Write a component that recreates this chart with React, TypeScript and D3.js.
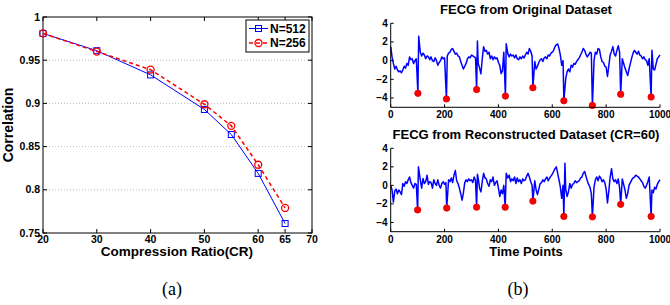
import { useMemo } from "react";
import * as d3 from "d3";

// (a) correlation vs compression ratio
const compressionRatios = [20, 30, 40, 50, 55, 60, 65];
const corrN512 = [0.981, 0.961, 0.933, 0.893, 0.864, 0.819, 0.761];
const corrN256 = [0.981, 0.960, 0.939, 0.899, 0.874, 0.829, 0.779];
const crTicks = [20, 30, 40, 50, 60, 65, 70];
const corrTicks = [0.75, 0.8, 0.85, 0.9, 0.95, 1];
const corrTickLabels = ["0.75", "0.8", "0.85", "0.9", "0.95", "1"];

// (b) FECG traces, one value every 5 time points
const timeStep = 5;
const originalBase = [
  1.5, 0.4, -0.3, -0.9, -0.6, -1.0, -1.2, -1.1, -1.3, -1.0,
  -0.6, -0.8, -0.3, -0.5, 0.4, 0.1, 0.2, -0.3, 0.0, 0.2,
  0.0, 0.3, 0.9, 0.5, 0.8, 0.6, 0.2, 0.5, 0.4, 0.1,
  0.4, 0.0, -0.1, 0.3, 0.0, -0.5, -0.2, 0.0, 0.4, 0.2,
  0.3, 0.1, 0.5, 0.8, 0.9, 1.2, 1.3, 1.0, 0.7, 0.8,
  0.5, 0.4, -0.1, -0.5, -0.9, -0.6, -0.3, 0.2, 0.4, 0.3,
  0.6, 0.5, 0.4, 0.3, 0.2, -0.3, -0.8, -1.4, 0.2, 1.5,
  1.0, 1.1, 0.7, 0.9, 0.2, 0.5, 0.1, 0.4, 0.2, 0.3,
  -0.2, -0.5, -1.4, -1.1, 0.9, 0.5, 0.2, 0.75, 0.4, 0.7,
  0.5, 0.6, 0.3, 0.6, 0.2, 0.1, 0.4, 0.2, 0.5, 0.3,
  0.6, 0.9, 0.7, 1.3, 1.0, 0.5, 0.0, -0.1, -0.9, -0.6,
  -0.2, 0.1, 0.2, -0.1, 0.3, 0.4, 0.2, 0.6, 0.5, 0.8,
  0.9, 1.1, 1.5, 1.7, 1.8, 1.3, 0.6, -0.5, 0.0, -1.5,
  -1.9, -1.2, -0.9, -1.2, -0.5, -0.7, -0.3, -0.4, -0.1, 0.1,
  0.3, 0.6, 0.9, 1.3, 1.1, 0.7, 0.4, 0.6, 0.9, 0.8,
  0.0, 0.0, 0.9, 0.7, 1.3, 1.2, 0.4, -0.1, -0.2, -0.6,
  -0.7, -1.7, -0.5, 0.6, 1.0, 1.5, 0.7, 0.5, 1.1, 1.6,
  0.9, 0.0, 0.2, -0.3, -0.8, -1.2, -1.6, -0.9, -0.3, 0.3,
  0.8, 1.1, 0.9, 0.7, 1.0, 0.6, 0.5, 0.2, 0.4, 0.1,
  0.0, -0.5, 0.2, 0.0, -0.3, -0.9, -1.0, -0.4, 0.2, 0.4,
  0.6,
];
const originalPeakTimes = [101, 207, 319, 426, 528, 643, 749, 854, 967];
const originalPeakValues = [-3.5, -4.1, -3.1, -3.8, -2.9, -4.3, -4.8, -3.6, -3.9];
const originalRTimes = [104, 322, 429, 970];
const originalRValues = [2.6, 2.1, 1.8, 1.1];

const reconBase = [
  0.0, -0.5, -1.8, -0.6, -0.4, -0.9, -0.5, -0.7, -1.0, 0.2,
  -0.1, 0.4, 0.2, 0.6, 0.9, 0.3, 0.0, -0.3, 0.2, 0.1,
  0.0, 0.3, 0.6, -0.3, 0.75, 0.2, 0.4, 1.1, 0.1, 0.4,
  0.3, -0.3, 0.6, 0.2, 0.0, 0.6, 0.0, -0.3, 0.2, 0.4,
  0.1, 0.3, 0.4, 0.6, 0.4, 0.8, 0.3, 1.1, 1.6, 0.5,
  0.2, -0.3, -0.9, -1.6, -0.8, 0.3, 0.6, 0.4, 0.7, 0.5,
  0.6, 0.3, 0.9, 0.5, 0.2, 0.75, -0.3, -0.7, 0.4, 1.3,
  0.8, 0.7, 0.2, -0.1, 0.6, 0.4, 0.9, 0.0, 0.3, 0.5,
  -0.3, -1.2, -0.5, -0.9, 0.0, 0.0, 1.0, 0.8, 1.1, 0.4,
  0.7, 0.5, 0.9, 0.2, 0.8, 0.4, 0.6, 0.2, 0.7, 0.5,
  0.6, 1.0, 1.3, 0.9, 0.4, 0.0, 0.0, 0.5, -0.5, -1.0,
  -0.4, 0.2, 0.3, 0.6, 0.4, 0.7, 0.9, 0.5, 0.8, 1.0,
  1.2, 1.5, 1.8, 2.0, 1.3, 0.6, -0.2, -1.4, 0.0, 0.0,
  -0.4, -1.2, -0.7, 0.2, -0.3, 0.1, 0.2, 0.5, 0.3, 0.4,
  0.5, 0.8, 0.9, 1.3, 1.5, 1.0, 0.5, 0.1, -0.2, -0.9,
  0.0, -0.2, 0.6, 0.9, 0.5, 1.0, 0.8, 0.4, 0.6, 0.3,
  -0.4, -1.9, -0.6, 0.9, 1.8, 0.7, 0.4, 0.6, 0.2, 0.7,
  -0.3, 0.0, 0.7, 0.1, -0.5, -1.4, -0.9, 0.0, 0.3, 0.6,
  0.8, 0.9, 1.1, 1.0, 0.9, 0.7, 0.5, 0.3, -0.1, -0.3,
  0.0, 0.4, 0.9, 0.0, -0.5, -0.8, -0.2, -0.4, 0.1, 0.4,
  0.6,
];
const reconPeakTimes = [100, 208, 319, 425, 528, 643, 749, 854, 967];
const reconPeakValues = [-2.65, -2.45, -2.35, -2.35, -1.7, -3.35, -3.4, -2.05, -3.35];
const reconRTimes = [103, 322, 429, 647];
const reconRValues = [2.0, 1.2, 1.3, 2.4];

const timeTicks = [0, 200, 400, 600, 800, 1000];
const ampTicks = [-4, -2, 0, 2, 4];

const SANS = "'Liberation Sans', Arial, Helvetica, sans-serif";
const SERIF = "'Liberation Serif', 'Times New Roman', serif";
const BLUE = "#0000ff";
const RED = "#ff0000";

type Pt = [number, number];

function buildSignal(base: number[], peakT: number[], peakV: number[], rT: number[], rV: number[]): Pt[] {
  const spikes: Pt[] = [
    ...peakT.map((t, i) => [t, peakV[i]] as Pt),
    ...rT.map((t, i) => [t, rV[i]] as Pt),
  ];
  const pts: Pt[] = base
    .map((v, i) => [i * timeStep, v] as Pt)
    .filter(([t]) => !spikes.some(([s]) => Math.abs(s - t) < 3));
  return [...pts, ...spikes].sort((a, b) => a[0] - b[0]);
}

function CorrelationPanel() {
  const x = d3.scaleLinear().domain([20, 70]).range([43, 312]);
  const y = d3.scaleLinear().domain([0.75, 1]).range([233, 17]);
  const line = d3.line<number>().x((_, i) => x(compressionRatios[i])).y((d) => y(d));
  const [x0, x1] = x.range();
  const [y0, y1] = y.range();
  const tk = 4;
  return (
    <g fontFamily={SANS} fontWeight="bold">
      {corrTicks.slice(1, -1).map((v) => (
        <line key={`g${v}`} x1={x0} x2={x1} y1={y(v)} y2={y(v)} stroke="#aaa" strokeWidth={0.8} strokeDasharray="1,2" />
      ))}
      <rect x={x0} y={y1} width={x1 - x0} height={y0 - y1} fill="none" stroke="#000" strokeWidth={1} />
      {crTicks.map((v) => (
        <g key={`x${v}`}>
          <line x1={x(v)} x2={x(v)} y1={y0} y2={y0 - tk} stroke="#000" />
          <line x1={x(v)} x2={x(v)} y1={y1} y2={y1 + tk} stroke="#000" />
          <text x={x(v)} y={y0 + 10} textAnchor="middle" fontSize={10.5}>{v}</text>
        </g>
      ))}
      {corrTicks.map((v, i) => (
        <g key={`y${v}`}>
          <line x1={x0} x2={x0 + tk} y1={y(v)} y2={y(v)} stroke="#000" />
          <line x1={x1} x2={x1 - tk} y1={y(v)} y2={y(v)} stroke="#000" />
          <text x={x0 - 3} y={y(v) + 3.5} textAnchor="end" fontSize={10.5}>{corrTickLabels[i]}</text>
        </g>
      ))}
      <path d={line(corrN512) ?? ""} fill="none" stroke={BLUE} strokeWidth={1} />
      {corrN512.map((v, i) => (
        <rect key={`s${i}`} x={x(compressionRatios[i]) - 3} y={y(v) - 3} width={6} height={6} fill="none" stroke={BLUE} strokeWidth={1} />
      ))}
      <path d={line(corrN256) ?? ""} fill="none" stroke={RED} strokeWidth={1.5} strokeDasharray="4,3" />
      {corrN256.map((v, i) => (
        <circle key={`c${i}`} cx={x(compressionRatios[i])} cy={y(v)} r={3.5} fill="none" stroke={RED} strokeWidth={1.3} />
      ))}
      {/* legend */}
      <rect x={246} y={20} width={63} height={32} fill="#fff" stroke="#000" strokeWidth={1} />
      <line x1={249} x2={268} y1={28.5} y2={28.5} stroke={BLUE} strokeWidth={1} />
      <rect x={255.5} y={25.5} width={6} height={6} fill="none" stroke={BLUE} />
      <text x={270} y={32.5} fontSize={12}>N=512</text>
      <line x1={249} x2={268} y1={43} y2={43} stroke={RED} strokeWidth={1.5} strokeDasharray="4,3" />
      <circle cx={258.5} cy={43} r={3.5} fill="none" stroke={RED} strokeWidth={1.3} />
      <text x={270} y={47} fontSize={12}>N=256</text>
      <text x={177} y={256} textAnchor="middle" fontSize={13.5}>Compression Ratio(CR)</text>
      <text transform="translate(13,125) rotate(-90)" textAnchor="middle" fontSize={14}>Correlation</text>
    </g>
  );
}

function TracePanel({ top, bottom, title, signal, peakT, peakV }: {
  top: number; bottom: number; title: string; signal: Pt[]; peakT: number[]; peakV: number[];
}) {
  const x = d3.scaleLinear().domain([0, 1000]).range([390.7, 660]);
  const y = d3.scaleLinear().domain([-5, 4]).range([bottom, top]);
  const line = d3.line<Pt>().x((d) => x(d[0])).y((d) => y(d[1]));
  const [x0, x1] = x.range();
  const tk = 3;
  return (
    <g fontFamily={SANS} fontWeight="bold">
      <path d={line(signal) ?? ""} fill="none" stroke={BLUE} strokeWidth={1.5} strokeLinejoin="round" />
      {peakT.map((t, i) => (
        <circle key={`p${i}`} cx={x(t)} cy={y(peakV[i])} r={3.2} fill={RED} stroke="#e00000" strokeWidth={0.8} />
      ))}
      <line x1={x0} x2={x0} y1={top} y2={bottom} stroke="#000" />
      <line x1={x0} x2={x1} y1={bottom} y2={bottom} stroke="#000" />
      {ampTicks.map((v) => (
        <g key={`y${v}`}>
          <line x1={x0} x2={x0 + tk} y1={y(v)} y2={y(v)} stroke="#000" />
          <text x={x0 - 3} y={y(v) + 3.5} textAnchor="end" fontSize={10}>{v < 0 ? `\u2212${-v}` : v}</text>
        </g>
      ))}
      {timeTicks.map((v) => (
        <g key={`x${v}`}>
          <line x1={x(v)} x2={x(v)} y1={bottom} y2={bottom - tk} stroke="#000" />
          <text x={x(v)} y={bottom + 11} textAnchor="middle" fontSize={10}>{v}</text>
        </g>
      ))}
      <text x={526} y={top - 9} textAnchor="middle" fontSize={13}>{title}</text>
    </g>
  );
}

export default function App() {
  const originalSignal = useMemo(
    () => buildSignal(originalBase, originalPeakTimes, originalPeakValues, originalRTimes, originalRValues), []);
  const reconSignal = useMemo(
    () => buildSignal(reconBase, reconPeakTimes, reconPeakValues, reconRTimes, reconRValues), []);
  return (
    <svg width={670} height={305} viewBox="0 0 670 305" style={{ position: "absolute", left: 0, top: 0, background: "#fff" }}>
      <rect width={670} height={305} fill="#fff" />
      <CorrelationPanel />
      <TracePanel top={23.3} bottom={107.3} title="FECG from Original Dataset" signal={originalSignal}
        peakT={originalPeakTimes} peakV={originalPeakValues} />
      <TracePanel top={148.3} bottom={231.7} title="FECG from Reconstructed Dataset (CR=60)" signal={reconSignal}
        peakT={reconPeakTimes} peakV={reconPeakValues} />
      <text x={526} y={256} textAnchor="middle" fontFamily={SANS} fontWeight="bold" fontSize={13}>Time Points</text>
      <text x={172} y={295} textAnchor="middle" fontFamily={SERIF} fontSize={18}>(a)</text>
      <text x={518} y={295} textAnchor="middle" fontFamily={SERIF} fontSize={18}>(b)</text>
    </svg>
  );
}
